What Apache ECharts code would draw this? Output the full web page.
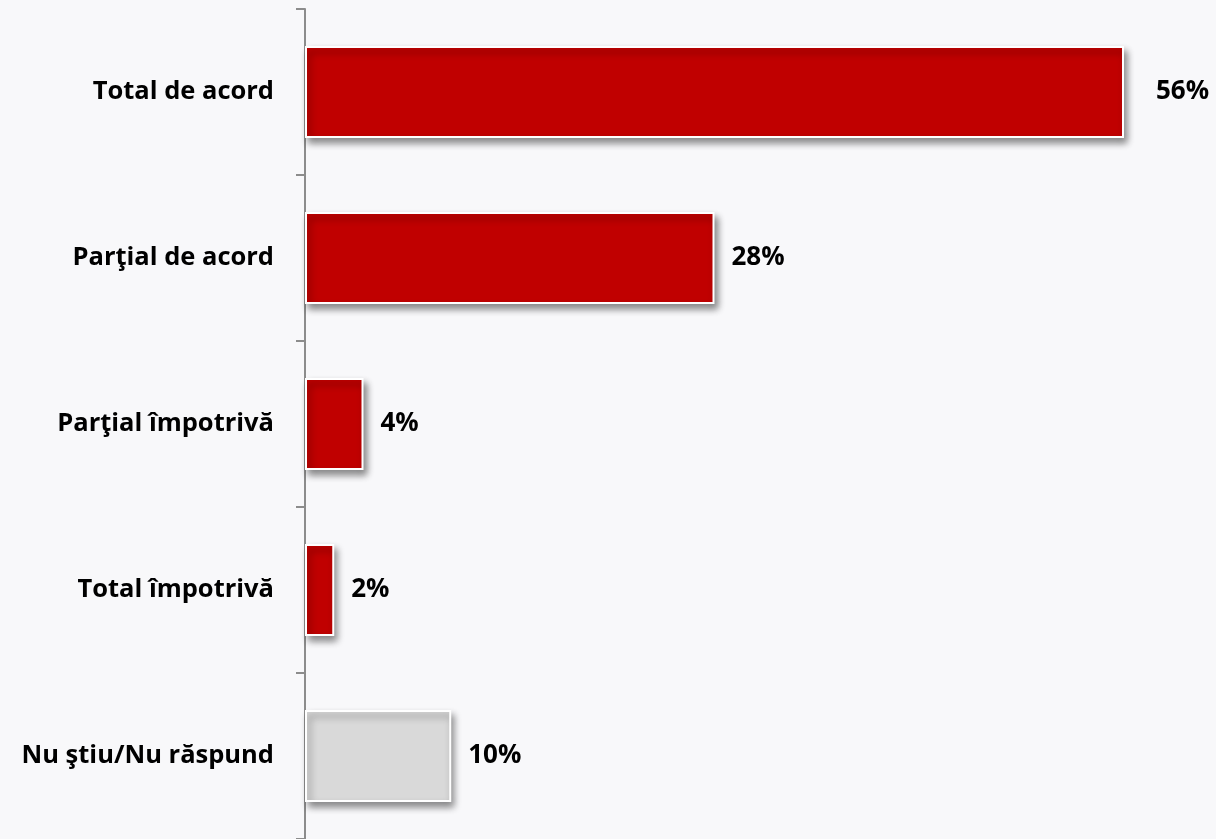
<!DOCTYPE html>
<html>
<head>
<meta charset="utf-8">
<script src="https://cdn.jsdelivr.net/npm/echarts@6/dist/echarts.min.js"></script>
<style>
  html, body { margin: 0; padding: 0; background: #f8f8fa; }
  #chart { width: 1216px; height: 839px; }
</style>
</head>
<body>
<div id="chart"></div>
<script>
// Answer categories, top to bottom
const categories = ['Total de acord', 'Parţial de acord', 'Parţial împotrivă', 'Total împotrivă', 'Nu ştiu/Nu răspund'];
// Share of respondents, percent
const values = [56, 28, 4, 2, 10];
// Bar colours: answers in red, "don't know" in grey
const barColors = ['#c00000', '#c00000', '#c00000', '#c00000', '#d9d9d9'];

const chart = echarts.init(document.getElementById('chart'));

chart.setOption({
  backgroundColor: '#f8f8fa',
  animation: false,
  grid: { left: 305, right: 92, top: 9, bottom: 0 },
  xAxis: {
    type: 'value',
    min: 0,
    max: 56,
    show: false
  },
  yAxis: {
    type: 'category',
    data: categories,
    inverse: true,
    axisLine: { show: true, lineStyle: { color: '#8c8c8c', width: 2 } },
    axisTick: { show: true, length: 9, lineStyle: { color: '#8c8c8c', width: 2 } },
    axisLabel: {
      margin: 31,
      padding: [6, 0, 0, 0],
      fontFamily: 'Open Sans',
      fontWeight: 'bold',
      fontSize: 25.5,
      color: '#000'
    },
    splitLine: { show: false }
  },
  series: [{
    type: 'bar',
    barWidth: 92,
    data: values.map((v, i) => ({
      value: v,
      itemStyle: { color: barColors[i] },
      label: i === 0 ? { distance: 32 } : undefined
    })),
    itemStyle: {
      borderColor: '#ffffff',
      borderWidth: 2,
      shadowColor: 'rgba(0,0,0,0.45)',
      shadowBlur: 7,
      shadowOffsetX: 3,
      shadowOffsetY: 5
    },
    label: {
      show: true,
      position: 'right',
      distance: 17,
      padding: [5, 0, 0, 0],
      formatter: '{c}%',
      fontFamily: 'Open Sans',
      fontWeight: 'bold',
      fontSize: 26,
      color: '#000'
    }
  }]
});
</script>
</body>
</html>
